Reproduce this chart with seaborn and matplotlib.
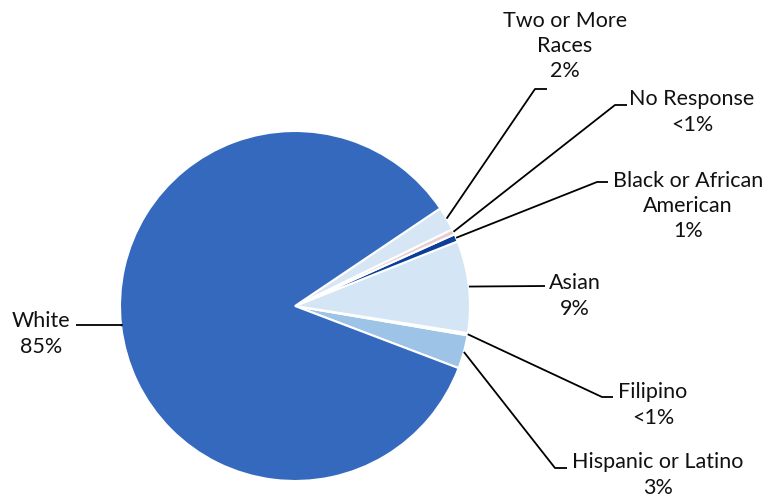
import numpy as np
import matplotlib
matplotlib.use("Agg")
import matplotlib.pyplot as plt
import seaborn as sns

# slices, counterclockwise starting below the horizontal on the right
categories = ["Hispanic or Latino", "Filipino", "Asian", "Black or African\nAmerican",
              "No Response", "Two or More\nRaces", "White"]
shares = [3.1, 0.2, 8.5, 0.7, 0.5, 2.2, 84.8]
pct_labels = ["3%", "<1%", "9%", "1%", "<1%", "2%", "85%"]
colors = ["#9DC3E6", "#C9DDF1", "#D4E6F6", "#0B3F9B", "#E8CDD0", "#D6E6F5", "#3469BE"]

# label layout (pixel coords, y down): text centre, elbow of leader, end of leader
text_pos = [(658, 475), (653, 405), (575, 296), (688, 206), (692, 112), (565, 46), (41, 334)]
elbow = [(555, 468), (602, 397), (545, 286), (597, 182), (615, 105), (535, 89), (122, 325)]
line_end = [(567, 468), (613, 397), (545, 286), (608, 182), (627, 105), (547, 89), (76, 325)]

W, H = 768, 497
cx, cy, r = 295, 306, 175
start = -20.8

sns.set_theme(style="white")
plt.rcParams["font.family"] = ["Lato", "DejaVu Sans"]

fig = plt.figure(figsize=(W / 100, H / 100), dpi=100)
ax = fig.add_axes([0, 0, 1, 1])

ax.pie(shares, colors=colors, startangle=start, counterclock=True,
       center=(cx, H - cy), radius=r,
       wedgeprops=dict(edgecolor="white", linewidth=1.5))

# leader lines from wedge midpoints
ang = start
for i, s in enumerate(shares):
    mid = np.deg2rad(ang + s * 360 / 100 / 2)
    ang += s * 360 / 100
    x0 = cx + r * np.cos(mid)
    y0 = (H - cy) + r * np.sin(mid)
    ex, ey = elbow[i]
    lx, ly = line_end[i]
    ax.plot([x0, ex, lx], [y0, H - ey, H - ly], color="black", lw=1.3,
            solid_capstyle="butt")
    tx, ty = text_pos[i]
    ax.text(tx, H - ty, categories[i] + "\n" + pct_labels[i], ha="center", va="center",
            fontsize=15.5, linespacing=1.32, color="#111111")

ax.set_xlim(0, W)
ax.set_ylim(0, H)
ax.set_aspect("equal")
ax.axis("off")

fig.savefig("out.png", dpi=100)
